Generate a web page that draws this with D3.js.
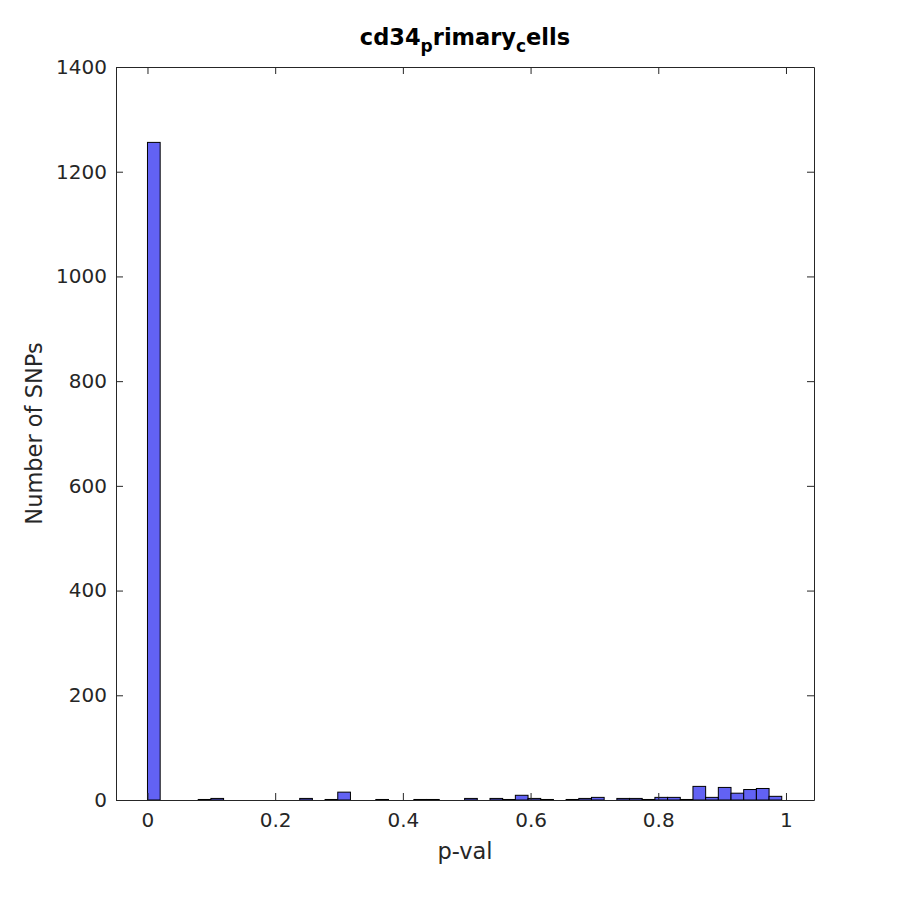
<!DOCTYPE html>
<html>
<head>
<meta charset="utf-8">
<script src="https://cdn.jsdelivr.net/npm/d3@7"></script>
<style>
  html, body { margin: 0; padding: 0; background: #fff; }
  svg { display: block; font-family: "DejaVu Sans", sans-serif; }
</style>
</head>
<body>
<svg id="chart" width="900" height="900"></svg>
<script>
// ---- data ----
const binMin = 0;
const binMax = 0.9934;
const counts = [
  1256, 0, 0, 0, 1, 3, 0, 0, 0, 0,
  0, 0, 3, 0, 1, 15, 0, 0, 1, 0,
  0, 1, 1, 0, 0, 3, 0, 3, 1, 9,
  3, 1, 0, 1, 3, 5, 0, 3, 3, 1,
  5, 5, 1, 26, 5, 24, 13, 20, 22, 7
];
const xTicks = [0, 0.2, 0.4, 0.6, 0.8, 1];
const xTickLabels = ["0", "0.2", "0.4", "0.6", "0.8", "1"];
const yTicks = [0, 200, 400, 600, 800, 1000, 1200, 1400];
const xDomain = [-0.0493, 1.0439];
const yDomain = [0, 1400];

// ---- layout ----
const mLeft = 116, mRight = 814, mTop = 67, mBottom = 800;
const axisColor = "#262626";

const svg = d3.select("#chart");
const x = d3.scaleLinear().domain(xDomain).range([mLeft, mRight]);
const y = d3.scaleLinear().domain(yDomain).range([mBottom, mTop]);

const nb = counts.length;
const bw = (binMax - binMin) / nb;
const bins = counts.map((c, i) => ({ x0: binMin + i * bw, x1: binMin + (i + 1) * bw, c }));

// bars
svg.append("g").selectAll("rect")
  .data(bins.filter(d => d.c > 0))
  .join("rect")
  .attr("x", d => x(d.x0))
  .attr("width", d => x(d.x1) - x(d.x0))
  .attr("y", d => y(d.c))
  .attr("height", d => y(0) - y(d.c))
  .attr("fill", "#6262f4")
  .attr("stroke", "#000")
  .attr("stroke-width", 1);

// axes
function styleAxis(g, showLabels) {
  g.select(".domain").attr("stroke", axisColor).attr("stroke-width", 1);
  g.selectAll(".tick line").attr("stroke", axisColor).attr("stroke-width", 1);
  g.selectAll(".tick text").attr("fill", axisColor).style("font-size", "20px")
    .style("font-family", "DejaVu Sans, sans-serif");
  if (!showLabels) g.selectAll(".tick text").remove();
}

const xAxisB = d3.axisBottom(x).tickValues(xTicks)
  .tickFormat((d, i) => xTickLabels[i]).tickSizeInner(-7).tickSizeOuter(0).tickPadding(13);
svg.append("g").attr("transform", `translate(0,${mBottom})`).call(xAxisB).call(g => styleAxis(g, true));

const xAxisT = d3.axisTop(x).tickValues(xTicks).tickSizeInner(-7).tickSizeOuter(0);
svg.append("g").attr("transform", `translate(0,${mTop})`).call(xAxisT).call(g => styleAxis(g, false));

const yAxisL = d3.axisLeft(y).tickValues(yTicks).tickFormat(d3.format("d"))
  .tickSizeInner(-7).tickSizeOuter(0).tickPadding(9);
svg.append("g").attr("transform", `translate(${mLeft},0)`).call(yAxisL).call(g => styleAxis(g, true));

const yAxisR = d3.axisRight(y).tickValues(yTicks).tickSizeInner(-7).tickSizeOuter(0);
svg.append("g").attr("transform", `translate(${mRight},0)`).call(yAxisR).call(g => styleAxis(g, false));

// x label
svg.append("text")
  .attr("x", (mLeft + mRight) / 2).attr("y", 859)
  .attr("text-anchor", "middle")
  .attr("fill", axisColor)
  .style("font-size", "22.5px")
  .text("p-val");

// y label
svg.append("text")
  .attr("transform", `translate(42,${(mTop + mBottom) / 2}) rotate(-90)`)
  .attr("text-anchor", "middle")
  .attr("fill", axisColor)
  .style("font-size", "22.5px")
  .text("Number of SNPs");

// title with TeX-style subscripts
const title = svg.append("text")
  .attr("x", (mLeft + mRight) / 2).attr("y", 45)
  .attr("text-anchor", "middle")
  .attr("fill", "#000")
  .style("font-size", "22.5px")
  .style("font-weight", "bold");
title.append("tspan").text("cd34");
title.append("tspan").attr("dy", 7).style("font-size", "17px").text("p");
title.append("tspan").attr("dy", -7).text("rimary");
title.append("tspan").attr("dy", 7).style("font-size", "17px").text("c");
title.append("tspan").attr("dy", -7).text("ells");
</script>
</body>
</html>
